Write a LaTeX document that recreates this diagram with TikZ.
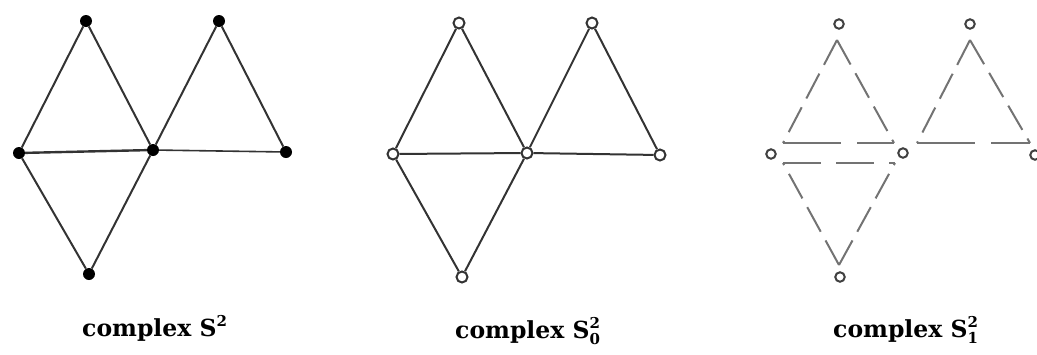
\documentclass[tikz,border=0pt]{standalone}
\usepackage{fontspec}
\setmainfont{DejaVu Serif}
\newcommand{\supsubS}[2]{S\rlap{\raisebox{0.42em}{\fontsize{15}{15}\selectfont\bfseries #1}}\raisebox{-0.28em}{\fontsize{15}{15}\selectfont\bfseries #2}}
\begin{document}
\begin{tikzpicture}[x=1pt,y=-1pt,
  edge/.style={draw=black!80, line width=2pt},
  fdot/.style={circle, fill=black, inner sep=0pt, minimum size=12pt},
  odot/.style={circle, draw=black!80, fill=white, line width=2pt, inner sep=0pt, minimum size=11pt},
  sdot/.style={circle, draw=black!75, fill=white, line width=2pt, inner sep=0pt, minimum size=9.5pt},
  dedge/.style={draw=black!55, line width=2pt, dash pattern=on 28pt off 10pt},
  lab/.style={font=\fontsize{23.5}{28}\selectfont\bfseries, anchor=base west, inner sep=0pt}]
\useasboundingbox (0,0) rectangle (1037,354);
\clip (0,0) rectangle (1037,354);

% ---------- panel 1 ----------
\node[fdot] (a1) at (86,21) {};
\node[fdot] (b1) at (219,21) {};
\node[fdot] (l1) at (19,153) {};
\node[fdot] (c1) at (153,150) {};
\node[fdot] (r1) at (286,152) {};
\node[fdot] (d1) at (89,274) {};
\draw[edge] (a1) -- (l1);
\draw[edge] (a1) -- (c1);
\draw[edge, line width=2.4pt] (l1) -- (c1);
\draw[edge] (l1) -- (d1);
\draw[edge] (d1) -- (c1);
\draw[edge] (c1) -- (b1);
\draw[edge] (b1) -- (r1);
\draw[edge, line width=1.6pt] (c1) -- (r1);
\node[lab] (t1) at (82,336) {complex \supsubS{2}{}};

% ---------- panel 2 ----------
\node[odot] (a2) at (459,23) {};
\node[odot] (b2) at (592,23) {};
\node[odot] (l2) at (393,154) {};
\node[odot] (c2) at (527,153) {};
\node[odot] (r2) at (660,155) {};
\node[odot] (d2) at (462,277) {};
\draw[edge] (a2) -- (l2);
\draw[edge] (a2) -- (c2);
\draw[edge] (l2) -- (c2);
\draw[edge] (l2) -- (d2);
\draw[edge] (d2) -- (c2);
\draw[edge] (c2) -- (b2);
\draw[edge] (b2) -- (r2);
\draw[edge] (c2) -- (r2);
\node[lab] (t2) at (455,338) {complex \supsubS{2}{0}};

% ---------- panel 3 ----------
\node[sdot] (a3) at (839,24) {};
\node[sdot] (b3) at (970,24) {};
\node[sdot] (l3) at (771,154) {};
\node[sdot] (c3) at (903,153) {};
\node[sdot] (r3) at (1035,155) {};
\node[sdot] (d3) at (840,277) {};
\coordinate (p1) at (837,40);
\coordinate (p2) at (783,143);
\coordinate (p3) at (894,143);
\coordinate (q1) at (783,163);
\coordinate (q2) at (895,163);
\coordinate (q3) at (839,265);
\coordinate (s1) at (970,40);
\coordinate (s2) at (917,143);
\coordinate (s3) at (1030,143);
\draw[dedge] (p1) -- (p2);
\draw[dedge] (p1) -- (p3);
\draw[dedge, dash pattern=on 58pt off 16pt] (p2) -- (p3);
\draw[dedge, dash pattern=on 38pt off 15pt] (q1) -- (q2);
\draw[dedge] (q3) -- (q1);
\draw[dedge] (q3) -- (q2);
\draw[dedge] (s1) -- (s2);
\draw[dedge] (s1) -- (s3);
\draw[dedge, dash pattern=on 58pt off 16pt] (s2) -- (s3);
\node[lab] (t3) at (833,337) {complex \supsubS{2}{1}};
\end{tikzpicture}
\end{document}
